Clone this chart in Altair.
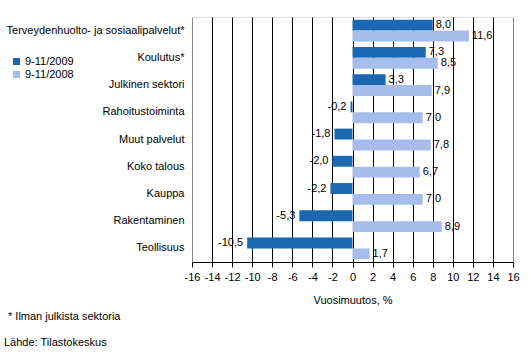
import altair as alt
import pandas as pd

categories = ["Terveydenhuolto- ja sosiaalipalvelut*", "Koulutus*", "Julkinen sektori",
              "Rahoitustoiminta", "Muut palvelut", "Koko talous", "Kauppa",
              "Rakentaminen", "Teollisuus"]
series_names = ["9-11/2009", "9-11/2008"]
values_2009 = [8.0, 7.3, 3.3, -0.2, -1.8, -2.0, -2.2, -5.3, -10.5]
values_2008 = [11.6, 8.5, 7.9, 7.0, 7.8, 6.7, 7.0, 8.9, 1.7]
x_ticks = list(range(-16, 17, 2))
footnote = "* Ilman julkista sektoria"
source = "Lähde: Tilastokeskus"
x_title = "Vuosimuutos, %"

rows = []
for c, v in zip(categories, values_2009):
    rows.append({"cat": c, "series": series_names[0], "v": v})
for c, v in zip(categories, values_2008):
    rows.append({"cat": c, "series": series_names[1], "v": v})
df = pd.DataFrame(rows)
df["label"] = df["v"].map(lambda v: f"{v:.1f}".replace(".", ","))

FONT = "Liberation Sans"
colors = ["#1a68b2", "#a6bcea"]

y_enc = alt.Y("cat:N", sort=categories,
              scale=alt.Scale(paddingInner=0.2, paddingOuter=0.1),
              axis=alt.Axis(title=None, ticks=False, domain=False, labelPadding=8,
                            labelFont=FONT, labelFontSize=11, labelColor="black",
                            labelLimit=300))
x_enc = alt.X("v:Q", scale=alt.Scale(domain=[-16, 16], nice=False),
              axis=alt.Axis(values=[float(t) for t in x_ticks], tickCount=17,
                            title=x_title, labelExpr="'' + datum.value",
                            labelOverlap=False, labelFlush=False,
                            labelFont=FONT, labelFontSize=11, labelColor="black",
                            titleFont=FONT, titleFontSize=11, titleFontWeight="normal",
                            titleColor="black", titlePadding=12,
                            grid=True,
                            gridColor={"condition": {"test": "abs(datum.value) == 16", "value": "#888888"}, "value": "black"},
                            gridWidth=1, gridOpacity=1,
                            domainColor="black", tickColor="black", tickSize=5,
                            labelPadding=4))
yoff = alt.YOffset("series:N", sort=series_names, scale=alt.Scale(paddingInner=0, paddingOuter=0))

base = alt.Chart(df)

bars = base.mark_bar().encode(
    y=y_enc, x=x_enc, yOffset=yoff,
    color=alt.Color("series:N", sort=series_names,
                    scale=alt.Scale(domain=series_names, range=colors),
                    legend=alt.Legend(title=None, orient="none", legendX=-181, legendY=39,
                                      symbolType="square", symbolSize=49, symbolStrokeWidth=0,
                                      labelFont=FONT, labelFontSize=11, labelColor="black",
                                      labelOffset=3, rowPadding=1)),
)

pos_text = base.transform_filter("datum.v >= 0").mark_text(
    align="left", baseline="middle", dx=3, font=FONT, fontSize=11, color="black"
).encode(y=y_enc, x=x_enc, yOffset=yoff, text="label:N")

neg_text = base.transform_filter("datum.v < 0").mark_text(
    align="right", baseline="middle", dx=-4, font=FONT, fontSize=11, color="black"
).encode(y=y_enc, x=x_enc, yOffset=yoff, text="label:N")

foot = alt.Chart(pd.DataFrame({"t": [footnote]})).mark_text(
    align="left", baseline="middle", font=FONT, fontSize=11, color="black"
).encode(text="t:N", x=alt.value(-184), y=alt.value(300))

src = alt.Chart(pd.DataFrame({"t": [source]})).mark_text(
    align="left", baseline="middle", font=FONT, fontSize=11, color="black"
).encode(text="t:N", x=alt.value(-188), y=alt.value(326))

chart = alt.layer(bars, pos_text, neg_text, foot, src).properties(
    width=321, height=245,
    autosize=alt.AutoSizeParams(type="none"),
    padding={"left": 192, "top": 17, "right": 16, "bottom": 94},
).configure_view(stroke="#888888", strokeWidth=1).configure(background="white")

chart.save("out.html", embed_options={"renderer": "svg", "actions": False})
